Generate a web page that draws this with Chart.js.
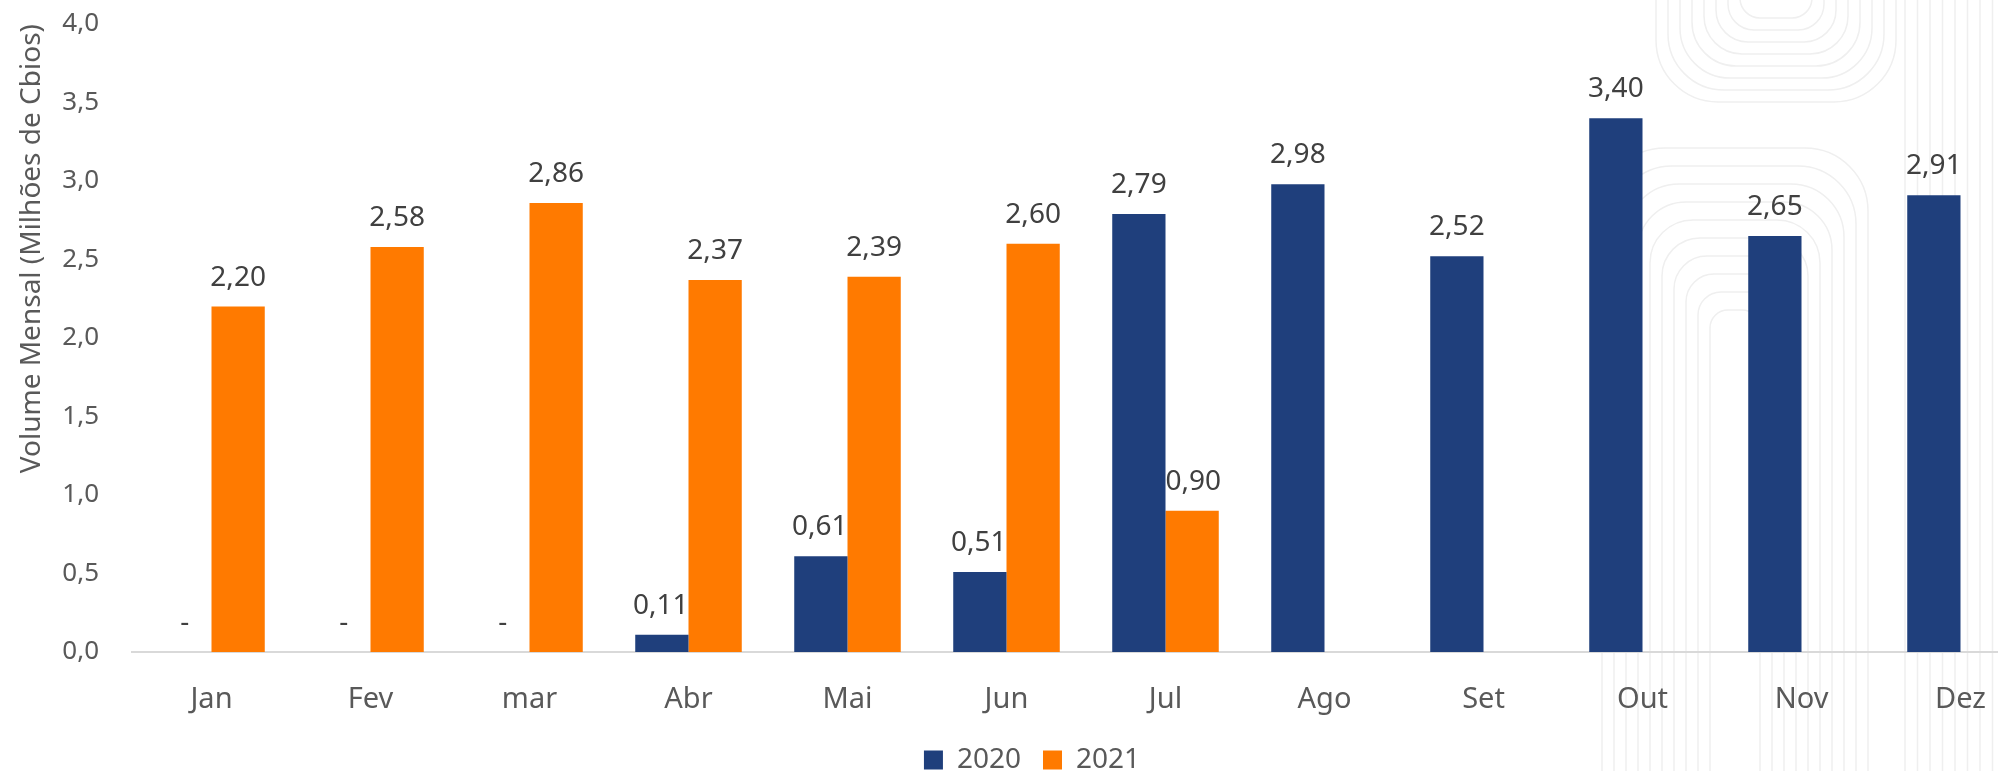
<!DOCTYPE html>
<html>
<head>
<meta charset="utf-8">
<script src="https://cdn.jsdelivr.net/npm/chart.js@4.4.0/dist/chart.umd.min.js"></script>
<style>
    html, body { margin: 0; padding: 0; background: #fff; overflow: hidden; }
    #wrap { width: 2040px; height: 784px; }
</style>
</head>
<body>
<div id="wrap"><canvas id="chart"></canvas></div>
<script>
// Chart data
const months = ['Jan', 'Fev', 'mar', 'Abr', 'Mai', 'Jun', 'Jul', 'Ago', 'Set', 'Out', 'Nov', 'Dez'];
const values2020 = [0, 0, 0, 0.11, 0.61, 0.51, 2.79, 2.98, 2.52, 3.40, 2.65, 2.91];
const values2021 = [2.20, 2.58, 2.86, 2.37, 2.39, 2.60, 0.90, null, null, null, null, null];
const yTickLabels = ['0,0', '0,5', '1,0', '1,5', '2,0', '2,5', '3,0', '3,5', '4,0'];

const FONT = '"Noto Sans", sans-serif';

// Faint decorative line pattern in the right part of the background
const backgroundPattern = {
    id: 'backgroundPattern',
    beforeDraw(chart) {
        const ctx = chart.ctx;
        ctx.save();
        ctx.strokeStyle = '#efefef';
        ctx.lineWidth = 1.5;

        // nested U shapes at the top
        for (let i = 0; i < 8; i++) {
            const l = 1740 - i * 12, r = 1812 + i * 12, b = 18 + i * 12, rad = 20 + i * 6;
            ctx.beginPath();
            ctx.moveTo(l, -5);
            ctx.arcTo(l, b, l + rad, b, rad);
            ctx.arcTo(r, b, r, -5, rad);
            ctx.lineTo(r, -5);
            ctx.stroke();
        }

        // nested arches going down to the bottom
        for (let i = 0; i < 10; i++) {
            const cx = 1735, hw = 25 + i * 12, t = 310 - i * 18, rad = Math.min(hw, 18 + i * 5);
            ctx.beginPath();
            ctx.moveTo(cx - hw, 800);
            ctx.arcTo(cx - hw, t, cx, t, rad);
            ctx.arcTo(cx + hw, t, cx + hw, 800, rad);
            ctx.lineTo(cx + hw, 800);
            ctx.stroke();
        }

        // vertical lines on the far right
        for (let x = 1905; x < 2040; x += 12.5) {
            ctx.beginPath();
            ctx.moveTo(x, -5);
            ctx.lineTo(x, 800);
            ctx.stroke();
        }
        ctx.restore();
    },
    afterLayout(chart) {
        // nudge the legend a little to the right, like the original
        chart.legend.left += 12;
        chart.legend.right += 12;
    }
};

// Value labels above the bars ("-" for zero)
const valueLabels = {
    id: 'valueLabels',
    afterDatasetsDraw(chart) {
        const ctx = chart.ctx;
        ctx.save();
        ctx.font = '28px ' + FONT;
        ctx.fillStyle = '#404040';
        ctx.textBaseline = 'alphabetic';
        chart.data.datasets.forEach((ds, di) => {
            const meta = chart.getDatasetMeta(di);
            const other = chart.data.datasets[1 - di].data;
            meta.data.forEach((bar, i) => {
                const v = ds.data[i];
                if (v === null || v === undefined) return;
                const text = v === 0 ? '-' : v.toFixed(2).replace('.', ',');
                const w = ctx.measureText(text).width;
                let x = bar.x;
                let align = 'center';
                // keep the label off the taller neighbour bar
                if (v > 0 && other[i] !== null && other[i] > v && w > bar.width - 10) {
                    if (di === 0) { x = bar.x + bar.width / 2; align = 'right'; }
                    else { x = bar.x - bar.width / 2; align = 'left'; }
                }
                ctx.textAlign = align;
                ctx.fillText(text, x, bar.y - 21);
            });
        });
        ctx.restore();
    }
};

const initChart = () => {
    const ctx = document.getElementById('chart').getContext('2d');

    new Chart(ctx, {
        type: 'bar',
        data: {
            labels: months,
            datasets: [
                {
                    label: '2020',
                    data: values2020,
                    backgroundColor: '#1F3F7C',
                    categoryPercentage: 0.67,
                    barPercentage: 1.0
                },
                {
                    label: '2021',
                    data: values2021,
                    backgroundColor: '#FF7A00',
                    categoryPercentage: 0.67,
                    barPercentage: 1.0
                }
            ]
        },
        options: {
            responsive: true,
            maintainAspectRatio: false,
            animation: false,
            layout: {
                padding: { top: 24, left: 0, right: 0, bottom: 0 }
            },
            plugins: {
                legend: {
                    position: 'bottom',
                    labels: {
                        color: '#595959',
                        font: { family: FONT, size: 28 },
                        boxWidth: 19,
                        boxHeight: 19,
                        padding: 22
                    }
                },
                tooltip: { enabled: false }
            },
            scales: {
                x: {
                    grid: { display: false, drawTicks: false },
                    border: { display: true, color: '#d9d9d9', width: 2 },
                    ticks: {
                        color: '#595959',
                        font: { family: FONT, size: 29 },
                        padding: 30
                    },
                    afterFit(scale) { scale.height = 72; }
                },
                y: {
                    min: 0,
                    max: 4,
                    grid: { display: false, drawTicks: false },
                    border: { display: false },
                    ticks: {
                        stepSize: 0.5,
                        color: '#595959',
                        font: { family: FONT, size: 26 },
                        padding: 33,
                        callback: (value, index) => yTickLabels[index]
                    },
                    title: {
                        display: true,
                        text: 'Volume Mensal (Milhões de Cbios)',
                        color: '#595959',
                        font: { family: FONT, size: 28 },
                        align: 'end',
                        padding: { top: 15, bottom: 0 }
                    },
                    afterFit(scale) {
                        scale.width = 132;
                        scale.paddingTop = 0;
                        scale.paddingBottom = 0;
                    }
                }
            }
        },
        plugins: [backgroundPattern, valueLabels]
    });
};

document.addEventListener('DOMContentLoaded', initChart);
</script>
</body>
</html>
